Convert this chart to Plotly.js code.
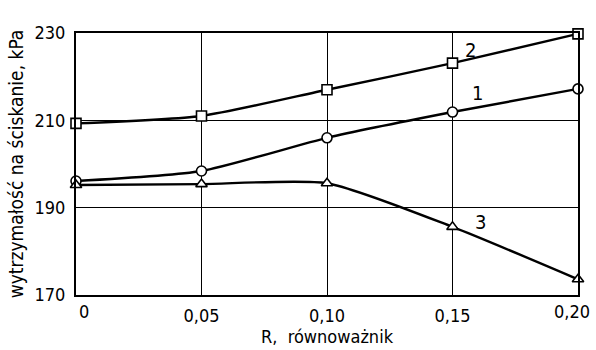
<!DOCTYPE html>
<html><head><meta charset="utf-8">
<script src="https://cdn.plot.ly/plotly-3.0.1.min.js"></script>
<style>html,body{margin:0;padding:0;background:#fff}#c{width:596px;height:350px}</style>
</head><body><div id="c"></div>
<script>
const xR = [0, 0.05, 0.10, 0.15, 0.20];
const s1 = [196.1, 198.4, 206.0, 211.9, 217.2];
const s2 = [209.3, 211.0, 217.0, 223.1, 229.8];
const s3 = [195.2, 195.4, 195.6, 185.6, 173.6];
const xTicks = [0, 0.05, 0.10, 0.15, 0.20];
const xTickText = ['0', '0,05', '0,10', '0,15', '0,20'];
const yTicks = [170, 190, 210, 230];
const labels = ['1', '2', '3'];

const font = 'DejaVu Sans Condensed, DejaVu Sans, sans-serif';
function tr(y, sym) {
  return {x: xR, y: y, mode: 'lines+markers', type: 'scatter',
    line: {color: '#000', width: 2.4, shape: 'spline', smoothing: 0.6},
    marker: {symbol: sym, size: 10, color: '#fff', line: {color: '#000', width: 1.6}},
    cliponaxis: false, showlegend: false};
}
const data = [tr(s1, 'circle'), tr(s2, 'square'), tr(s3, 'triangle-up')];
// first and last x tick labels are placed as annotations so they sit inside the page like the reference
const shownTickText = xTickText.map((t, i) => (i === 0 || i === xTickText.length - 1) ? '' : t);
const layout = {
  width: 596, height: 350,
  margin: {l: 76, r: 18, t: 33, b: 55},
  paper_bgcolor: '#fff', plot_bgcolor: '#fff',
  font: {family: font, color: '#000', size: 18},
  xaxis: {range: [0, 0.2], tickvals: xTicks, ticktext: shownTickText, showgrid: true,
    gridcolor: '#000', gridwidth: 1, zeroline: false, showline: true, mirror: true,
    linecolor: '#000', linewidth: 2, ticks: '', ticklabelstandoff: 3,
    title: {text: 'R,  równoważnik', font: {size: 18, family: font}, standoff: 6}},
  yaxis: {range: [170, 230], tickvals: yTicks, showgrid: true,
    gridcolor: '#000', gridwidth: 1, zeroline: false, showline: true, mirror: true,
    linecolor: '#000', linewidth: 2, ticks: '', ticklabelstandoff: 5,
    title: {text: 'wytrzymałość na ściskanie, kPa', font: {size: 19, family: font}, standoff: 6}},
  annotations: [
    {x: 0.157, y: 226.2, text: labels[1], showarrow: false, font: {size: 20}},
    {x: 0.160, y: 216.3, text: labels[0], showarrow: false, font: {size: 20}},
    {x: 0.161, y: 186.7, text: labels[2], showarrow: false, font: {size: 20}},
    {x: xTicks[0], xref: 'x', y: 0, yref: 'paper', text: xTickText[0], showarrow: false,
     xanchor: 'left', yanchor: 'top', xshift: 1, yshift: -4, font: {size: 18}},
    {x: xTicks[4], xref: 'x', y: 0, yref: 'paper', text: xTickText[4], showarrow: false,
     xanchor: 'right', yanchor: 'top', xshift: 14, yshift: -4, font: {size: 18}}
  ]
};
Plotly.newPlot('c', data, layout, {displayModeBar: false, staticPlot: true});
</script></body></html>
